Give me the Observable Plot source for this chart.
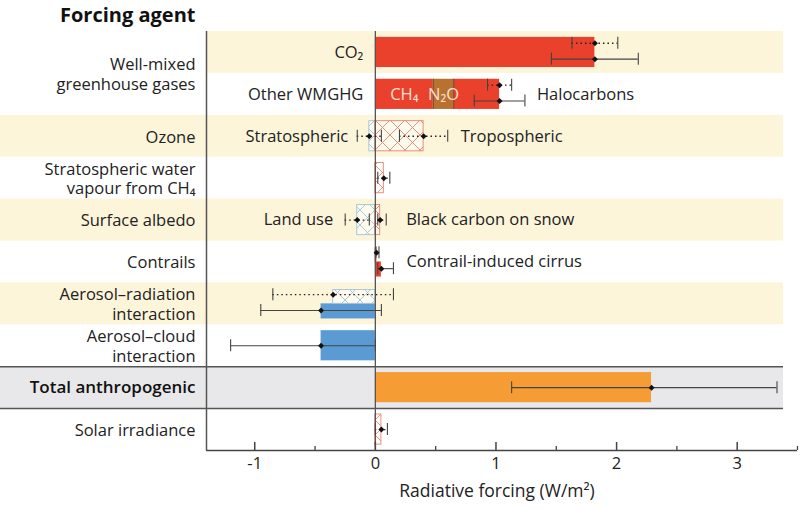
<!DOCTYPE html>
<html><head><meta charset="utf-8">
<script src="https://cdn.jsdelivr.net/npm/d3@7"></script>
<script src="https://cdn.jsdelivr.net/npm/@observablehq/plot@0.6"></script>
<style>
body{margin:0;background:#fff;}
#chart{width:800px;height:509px;position:relative;}
</style></head><body><div id="chart"></div>
<script>
// ---------- data ----------
const rowNames = ["CO2","Other WMGHG","Ozone","Stratospheric water vapour","Surface albedo","Contrails","Aerosol–radiation interaction","Aerosol–cloud interaction","Total anthropogenic","Solar irradiance"];

const agentLabels = ["Well-mixed\ngreenhouse gases","Ozone","Stratospheric water\nvapour from CH₄","Surface albedo","Contrails","Aerosol–radiation\ninteraction","Aerosol–cloud\ninteraction","Total anthropogenic","Solar irradiance"];
const agentRowStart = [0,2,3,4,5,6,7,8,9];
const agentRowSpan  = [2,1,1,1,1,1,1,1,1];
const agentBold     = [false,false,false,false,false,false,false,true,false];

const bandRows = [0,2,4,6];
const bandToEdge = [false,true,true,true];
const totalRow = 8;

// effective radiative forcing (solid bars)
const erfNames = ["CO₂","CH₄","N₂O","Halocarbons","Contrail-induced cirrus","Aerosol–radiation (ERF)","Aerosol–cloud","Total anthropogenic"];
const erfStart = [0,0,0.48,0.65,0,-0.45,-0.45,0];
const erfEnd   = [1.82,0.48,0.65,1.03,0.05,0,0,2.29];
const erfRow   = [0,1,1,1,5,6,7,8];
const erfSlot  = ["full","full","full","full","lower","lower","full","full"];
const erfKind  = ["red","red","brown","red","red","blue","blue","orange"];

// radiative forcing (hatched bars)
const rfNames = ["Stratospheric ozone","Tropospheric ozone","Stratospheric water vapour","Land use","Black carbon on snow","Contrails","Aerosol–radiation (RF)","Solar irradiance"];
const rfStart = [-0.05,0,0,-0.15,0,0,-0.35,0];
const rfEnd   = [0,0.40,0.07,0,0.04,0.01,0,0.05];
const rfRow   = [2,2,3,4,4,5,6,9];
const rfSlot  = ["full","full","full","full","full","upper","upper","full"];
const rfKind  = ["blue","red","red","blue","red","red","blue","red"];

// uncertainty ranges
const errNames = ["CO₂ RF","CO₂ ERF","Other WMGHG RF","Other WMGHG ERF","Stratospheric ozone","Tropospheric ozone","Stratospheric water vapour","Land use","Black carbon on snow","Contrails","Contrail-induced cirrus","Aerosol–radiation RF","Aerosol–radiation ERF","Aerosol–cloud","Total anthropogenic","Solar irradiance"];
const errBest = [1.82,1.82,1.03,1.03,-0.05,0.40,0.07,-0.15,0.04,0.01,0.05,-0.35,-0.45,-0.45,2.29,0.05];
const errLow  = [1.63,1.46,0.93,0.82,-0.15,0.20,0.02,-0.25,0.02,0.005,0.02,-0.85,-0.95,-1.20,1.13,0.00];
const errHigh = [2.01,2.18,1.13,1.24,0.05,0.60,0.12,-0.05,0.09,0.03,0.15,0.15,0.05,0.00,3.33,0.10];
const errRow  = [0,0,1,1,2,2,3,4,4,5,5,6,6,7,8,9];
const errSlot = ["top","bottom","top","bottom","mid","mid","mid","mid","mid","top","bottom","top","bottom","mid","mid","mid"];
const errType = ["RF","ERF","RF","ERF","RF","RF","RF","RF","RF","RF","ERF","RF","ERF","ERF","ERF","RF"];

// in-chart annotations
const noteText = ["CO₂","Other WMGHG","CH₄","N₂O","Halocarbons","Stratospheric","Tropospheric","Land use","Black carbon on snow","Contrail-induced cirrus"];
const noteX = [0, 0, (erfStart[1]+erfEnd[1])/2, (erfStart[2]+erfEnd[2])/2, errHigh[3], errLow[4], errHigh[5], errLow[7], errHigh[8], errHigh[10]];
const noteRow = [0,1,1,1,1,2,2,4,4,5];
const noteAnchor = ["end","end","middle","middle","start","end","start","end","start","start"];
const noteDx = [-12,-12,0,0,12,-9,13,-12,20,13];
const noteOnBar = [false,false,true,true,false,false,false,false,false,false];

const xDomain = [-1.4, 3.5];
const xTicks = [-1,0,1,2,3];
const xMinorTicks = [-0.5,0.5,1.5,2.5,3.5];
const xLabel = "Radiative forcing (W/m²)";
const title = "Forcing agent";

// ---------- styling ----------
const W = 800, H = 509, mL = 206, mR = 3, mT = 31, mB = 59;
const rowPx = (H - mT - mB) / rowNames.length;
const px = p => p / rowPx;
const colors = {red: "#e9412b", brown: "#b9712f", blue: "#5b9bd3", orange: "#f59d34"};
const hatch = {red: "url(#hatchRed)", blue: "url(#hatchBlue)"};
const hatchStroke = {red: "#e8826e", blue: "#9fc5d9"};
const barSlots = {full: [0.14, 0.86], upper: [0.17, 0.5], lower: [0.5, 0.86]};
const errSlots = {top: 0.28, bottom: 0.66, mid: 0.5};
const ink = "#444";
const font = 16.5;

// ---------- tables ----------
const bands = bandRows.map((r, i) => ({r, edge: bandToEdge[i]}));
const agents = agentLabels.map((t, i) => ({t, y: agentRowStart[i] + agentRowSpan[i] / 2, bold: agentBold[i]}));
const erf = erfNames.map((n, i) => ({n, x1: erfStart[i], x2: erfEnd[i], y1: erfRow[i] + barSlots[erfSlot[i]][0], y2: erfRow[i] + barSlots[erfSlot[i]][1], c: colors[erfKind[i]]}));
const rf = rfNames.map((n, i) => ({n, x1: rfStart[i], x2: rfEnd[i], y1: rfRow[i] + barSlots[rfSlot[i]][0], y2: rfRow[i] + barSlots[rfSlot[i]][1], f: hatch[rfKind[i]], s: hatchStroke[rfKind[i]]}));
const err = errNames.map((n, i) => ({n, best: errBest[i], lo: errLow[i], hi: errHigh[i], y: errRow[i] + errSlots[errSlot[i]], rf: errType[i] === "RF"}));
const caps = err.flatMap(d => [{x: d.lo, y: d.y}, {x: d.hi, y: d.y}]);
const notes = noteText.map((t, i) => ({t, x: noteX[i], y: noteRow[i] + 0.5, a: noteAnchor[i], dx: noteDx[i], on: noteOnBar[i]}));
const n2o = erf[2];

const plot = Plot.plot({
  width: W, height: H,
  marginLeft: mL, marginRight: mR, marginTop: mT, marginBottom: mB,
  style: {fontFamily: "'Open Sans', sans-serif", fontSize: "16px", color: "#222", background: "#fff"},
  x: {domain: xDomain},
  y: {domain: [0, rowNames.length], reverse: true, axis: null},
  marks: [
    // background bands
    Plot.rect(bands, {x1: xDomain[0], x2: xDomain[1], y1: d => d.r, y2: d => d.r + 1, fill: "#fcf5da", insetRight: 14}),
    Plot.rect(bands.filter(d => d.edge), {x1: xDomain[0], x2: xDomain[0], y1: d => d.r, y2: d => d.r + 1, fill: "#fcf5da", insetLeft: -mL}),
    Plot.rect([totalRow], {x1: xDomain[0], x2: xDomain[1], y1: d => d, y2: d => d + 1, fill: "#e8e8ea", insetLeft: -mL, insetRight: 14}),
    Plot.ruleY([totalRow, totalRow + 1], {x1: xDomain[0], x2: xDomain[1], y: d => d, stroke: "#555", strokeWidth: 1.5, insetLeft: -mL, insetRight: 14}),
    // bars
    Plot.rect(erf, {x1: "x1", x2: "x2", y1: "y1", y2: "y2", fill: "c"}),
    Plot.ruleX([n2o.x1, n2o.x2], {x: d => d, y1: n2o.y1, y2: n2o.y2, stroke: "#7b4527", strokeWidth: 1}),
    Plot.rect(rf, {x1: "x1", x2: "x2", y1: "y1", y2: "y2", fill: "f", stroke: "s", strokeWidth: 0.9}),
    // frame lines
    Plot.ruleX([xDomain[0]], {y1: 0, y2: rowNames.length, stroke: "#555", strokeWidth: 1.5}),
    Plot.ruleX([0], {y1: 0, y2: rowNames.length, stroke: "#555", strokeWidth: 1.3}),
    Plot.ruleY([rowNames.length], {x1: xDomain[0], x2: xDomain[1], stroke: "#444", strokeWidth: 1.3}),
    Plot.ruleX(xTicks, {x: d => d, y1: rowNames.length, y2: rowNames.length - px(8), stroke: "#444", strokeWidth: 1.5}),
    Plot.ruleX(xMinorTicks, {x: d => d, y1: rowNames.length, y2: rowNames.length - px(4), stroke: "#444", strokeWidth: 1.3}),
    Plot.axisX({ticks: xTicks, tickSize: 0, tickPadding: 7, tickFormat: d => String(d), fontSize: font, label: null}),
    // uncertainty
    Plot.ruleY(err.filter(d => d.rf), {x1: "lo", x2: "hi", y: "y", stroke: "#222", strokeWidth: 1.3, strokeDasharray: "1.5,3"}),
    Plot.ruleY(err.filter(d => !d.rf), {x1: "lo", x2: "hi", y: "y", stroke: ink, strokeWidth: 1.1}),
    Plot.ruleX(caps, {x: "x", y1: d => d.y - px(6), y2: d => d.y + px(6), stroke: ink, strokeWidth: 1.1}),
    Plot.dot(err, {x: "best", y: "y", r: 2.7, fill: "#111", symbol: "diamond2"}),
    // annotations
    ...notes.map(d => Plot.text([d], {x: "x", y: "y", text: "t", textAnchor: d.a, dx: d.dx, fill: d.on ? "#fbe0d8" : "#222", fontSize: font})),
    // agent labels
    Plot.text(agents.filter(d => !d.bold), {x: xDomain[0], y: "y", text: "t", textAnchor: "end", dx: -11, lineHeight: 1.2, fill: "#222", fontSize: font}),
    Plot.text(agents.filter(d => d.bold), {x: xDomain[0], y: "y", text: "t", textAnchor: "end", dx: -11, fill: "#111", fontSize: 17, fontWeight: 600}),
    Plot.text([title], {x: xDomain[0], y: 0, text: d => d, textAnchor: "end", dx: -11, dy: -16, fontSize: 20, fontWeight: 700, fill: "#111"}),
    Plot.text([xLabel], {frameAnchor: "bottom", text: d => d, dy: 46, dx: -5, fontSize: 17.5, fill: "#222"})
  ]
});

const ns = "http://www.w3.org/2000/svg";
const defs = document.createElementNS(ns, "defs");
defs.innerHTML = `
<pattern id="hatchRed" patternUnits="userSpaceOnUse" width="15" height="15"><rect width="15" height="15" fill="#fff" fill-opacity="0.5"/><path d="M0,0L15,15M15,0L0,15" stroke="${hatchStroke.red}" stroke-width="0.9"/></pattern>
<pattern id="hatchBlue" patternUnits="userSpaceOnUse" width="15" height="15"><rect width="15" height="15" fill="#fff" fill-opacity="0.5"/><path d="M0,0L15,15M15,0L0,15" stroke="${hatchStroke.blue}" stroke-width="0.9"/></pattern>`;
plot.insertBefore(defs, plot.firstChild);
document.getElementById("chart").appendChild(plot);
</script></body></html>
